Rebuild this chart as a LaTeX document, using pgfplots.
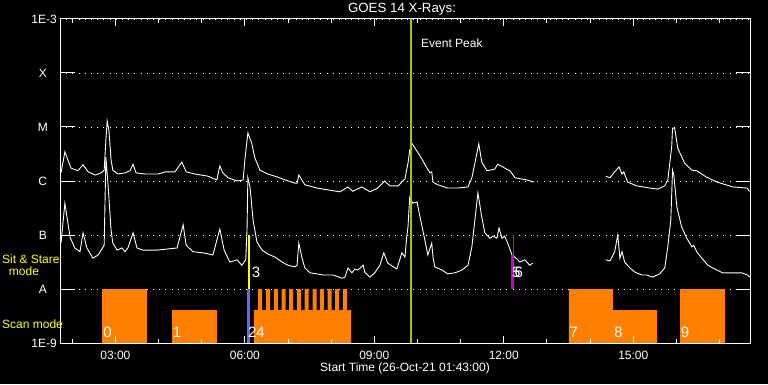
\documentclass[border=0pt]{standalone}
\usepackage{fontspec}
\setmainfont{Liberation Sans}
\usepackage{pgfplots}
\pgfplotsset{compat=1.18}
\definecolor{scanorange}{RGB}{255,128,0}
\definecolor{evgreen}{RGB}{153,204,0}
\definecolor{ssyellow}{RGB}{255,255,0}
\definecolor{lineblue}{RGB}{100,100,255}
\definecolor{magbar}{RGB}{204,0,204}
\newcommand{\tf}{\fontsize{12bp}{14bp}\selectfont}
\newcommand{\ttlf}{\fontsize{13.3bp}{15bp}\selectfont}
\newcommand{\nf}{\fontsize{15bp}{16bp}\selectfont}
\begin{document}
\begin{tikzpicture}[x=1bp,y=1bp]
\fill[black] (0,0) rectangle (768,384);
\path[use as bounding box] (0,0) rectangle (768,384);
\begin{axis}[at={(60bp,41bp)}, anchor=south west, scale only axis,
  width=690.5bp, height=324bp,
  xmin=1.7167, xmax=17.7167, ymin=-9, ymax=-3,
  axis line style={white, line width=1bp},
  xtick=\empty,
  ytick={-9,-8,...,-3},
  yticklabels={1E-9,\makebox[28bp]{A},\makebox[28bp]{B},\makebox[28bp]{C},\makebox[28bp]{M},\makebox[28bp]{X},1E-3},
  ytick pos=both, yticklabel pos=left, tick align=inside,
  major tick length=15bp,
  tick style={white, line width=1bp},
  ymajorgrids,
  major grid style={white, line width=0.9bp, dash pattern=on 0.9bp off 5.3bp},
  yticklabel style={anchor=east, inner sep=0pt, xshift=-3bp, text=white, font=\tf},
]
% GOES long channel (1-8 A)
\addplot[white, line width=0.9bp] coordinates {
(1.74,-5.85) (1.83,-5.46) (1.97,-5.76) (2.13,-5.81) (2.25,-5.70) (2.37,-5.83)
(2.53,-5.89) (2.67,-5.85) (2.74,-5.80) (2.78,-5.24) (2.81,-4.89) (2.85,-5.06)
(2.90,-5.61) (2.94,-5.80) (2.99,-5.83) (3.06,-5.87) (3.22,-5.85) (3.34,-5.81)
(3.41,-5.69) (3.48,-5.85) (3.69,-5.87) (3.99,-5.87) (4.17,-5.83) (4.38,-5.83)
(4.54,-5.65) (4.64,-5.83) (4.84,-5.87) (5.14,-5.91) (5.35,-5.98) (5.42,-5.72)
(5.49,-5.85) (5.61,-5.94) (5.82,-6.00) (5.96,-5.98) (6.00,-5.61) (6.07,-5.11)
(6.16,-5.30) (6.23,-5.57) (6.35,-5.80) (6.53,-5.87) (6.77,-5.93) (6.93,-5.98)
(7.16,-6.04) (7.21,-6.04) (7.25,-5.89) (7.39,-6.07) (7.67,-6.13) (7.97,-6.17)
(8.20,-6.20) (8.39,-6.11) (8.50,-6.19) (8.71,-6.11) (8.90,-6.20) (9.08,-6.13)
(9.24,-6.00) (9.36,-6.09) (9.55,-6.09) (9.71,-5.96) (9.78,-5.67) (9.82,-5.43)
(9.87,-5.30) (9.94,-5.39) (10.08,-5.56) (10.22,-5.76) (10.29,-5.85) (10.33,-5.83)
(10.36,-6.02) (10.47,-6.07) (10.70,-6.13) (10.94,-6.13) (11.17,-6.11) (11.26,-5.94)
(11.33,-5.67) (11.42,-5.31) (11.49,-5.65) (11.61,-5.81) (11.79,-5.78) (11.86,-5.69)
(11.98,-5.74) (12.02,-5.76) (12.14,-5.81) (12.26,-5.94) (12.53,-5.98) (12.70,-6.02)
};
\addplot[white, line width=0.9bp] coordinates {
(14.36,-5.91) (14.46,-5.94) (14.57,-5.83) (14.67,-5.74) (14.74,-5.87) (14.78,-5.83)
(14.87,-6.02) (15.08,-6.09) (15.38,-6.13) (15.57,-6.15) (15.73,-6.09) (15.80,-5.98)
(15.89,-5.37) (15.91,-5.02) (15.96,-5.02) (16.03,-5.39) (16.19,-5.67) (16.36,-5.80)
(16.47,-5.81) (16.70,-5.93) (16.94,-6.02) (17.31,-6.11) (17.63,-6.13) (17.70,-6.19)
};
% GOES short channel (0.5-4 A)
\addplot[white, line width=0.9bp] coordinates {
(1.74,-7.15) (1.83,-6.41) (1.95,-7.04) (2.06,-7.24) (2.18,-7.31) (2.25,-6.96)
(2.34,-7.24) (2.48,-7.43) (2.60,-7.37) (2.74,-7.19) (2.78,-5.56) (2.83,-6.07)
(2.90,-6.91) (2.94,-7.15) (3.04,-7.28) (3.15,-7.24) (3.22,-7.31) (3.29,-7.24)
(3.41,-6.96) (3.50,-7.24) (3.64,-7.28) (3.96,-7.28) (4.20,-7.26) (4.43,-7.24)
(4.57,-6.81) (4.64,-7.19) (4.80,-7.31) (5.03,-7.33) (5.26,-7.37) (5.42,-6.89)
(5.52,-7.28) (5.65,-7.50) (5.82,-7.46) (5.93,-7.56) (6.02,-7.46) (6.05,-6.91)
(6.07,-5.94) (6.12,-6.11) (6.19,-6.72) (6.28,-7.13) (6.40,-7.28) (6.53,-7.35)
(6.70,-7.41) (6.86,-7.50) (7.00,-7.56) (7.16,-7.59) (7.21,-7.56) (7.25,-7.15)
(7.32,-7.41) (7.39,-7.61) (7.51,-7.70) (7.67,-7.72) (7.81,-7.74) (8.04,-7.74)
(8.25,-7.80) (8.32,-7.78) (8.39,-7.61) (8.48,-7.70) (8.55,-7.63) (8.62,-7.65)
(8.74,-7.56) (8.78,-7.69) (8.90,-7.78) (9.01,-7.70) (9.13,-7.56) (9.22,-7.33)
(9.31,-7.52) (9.52,-7.63) (9.64,-7.33) (9.71,-7.41) (9.75,-7.04) (9.78,-6.85)
(9.82,-6.30) (9.89,-6.41) (9.99,-6.39) (10.06,-6.67) (10.17,-7.09) (10.24,-7.37)
(10.33,-7.15) (10.36,-7.41) (10.40,-7.59) (10.57,-7.65) (10.70,-7.72) (10.87,-7.70)
(11.03,-7.65) (11.17,-7.56) (11.26,-7.22) (11.33,-6.72) (11.40,-6.22) (11.49,-6.67)
(11.56,-6.96) (11.68,-7.06) (11.75,-7.02) (11.84,-7.06) (11.89,-6.87) (11.96,-7.06)
(12.02,-7.02) (12.09,-7.15) (12.19,-7.37) (12.30,-7.44) (12.37,-7.50) (12.49,-7.46)
(12.60,-7.56) (12.67,-7.52)
};
\addplot[white, line width=0.9bp] coordinates {
(14.36,-7.46) (14.46,-7.48) (14.57,-7.31) (14.64,-7.00) (14.69,-7.43) (14.74,-7.31)
(14.80,-7.50) (14.92,-7.61) (15.04,-7.69) (15.20,-7.74) (15.31,-7.74) (15.45,-7.78)
(15.61,-7.72) (15.73,-7.61) (15.80,-7.22) (15.87,-6.72) (15.91,-5.80) (15.94,-5.89)
(16.01,-6.48) (16.12,-6.85) (16.24,-7.06) (16.36,-7.22) (16.40,-7.19) (16.47,-7.31)
(16.59,-7.43) (16.73,-7.56) (16.89,-7.63) (17.07,-7.70) (17.28,-7.70) (17.51,-7.70)
(17.65,-7.74) (17.70,-7.78)
};
% scan mode rasters
\addplot[fill=scanorange, draw=none] coordinates {(2.69,-9) (2.69,-8) (3.73,-8) (3.73,-9)} -- cycle;
\addplot[fill=scanorange, draw=none] coordinates {(4.31,-9) (4.31,-8.39) (5.35,-8.39) (5.35,-9)} -- cycle;
\addplot[fill=scanorange, draw=none] coordinates {
(6.21,-9) (6.21,-8.39)
(6.310,-8.39) (6.310,-8) (6.403,-8) (6.403,-8.39)
(6.495,-8.39) (6.495,-8) (6.588,-8) (6.588,-8.39)
(6.674,-8.39) (6.674,-8) (6.767,-8) (6.767,-8.39)
(6.852,-8.39) (6.852,-8) (6.945,-8) (6.945,-8.39)
(7.028,-8.39) (7.028,-8) (7.121,-8) (7.121,-8.39)
(7.206,-8.39) (7.206,-8) (7.299,-8) (7.299,-8.39)
(7.385,-8.39) (7.385,-8) (7.478,-8) (7.478,-8.39)
(7.570,-8.39) (7.570,-8) (7.663,-8) (7.663,-8.39)
(7.739,-8.39) (7.739,-8) (7.832,-8) (7.832,-8.39)
(7.918,-8.39) (7.918,-8) (8.010,-8) (8.010,-8.39)
(8.094,-8.39) (8.094,-8) (8.187,-8) (8.187,-8.39)
(8.272,-8.39) (8.272,-8) (8.365,-8) (8.365,-8.39)
(8.46,-8.39) (8.46,-9)} -- cycle;
\addplot[fill=scanorange, draw=none] coordinates {(13.51,-9) (13.51,-8) (14.53,-8) (14.53,-8.39) (15.55,-8.39) (15.55,-9)} -- cycle;
\addplot[fill=scanorange, draw=none] coordinates {(16.08,-9) (16.08,-8) (17.12,-8) (17.12,-9)} -- cycle;
% sit and stare markers
\addplot[ssyellow, line width=2.3bp] coordinates {(6.10,-7) (6.10,-8)};
\addplot[lineblue, line width=3bp] coordinates {(6.08,-8) (6.08,-9)};
\addplot[fill=magbar, draw=none] coordinates {(12.16,-8) (12.16,-7.37) (12.23,-7.37) (12.23,-8)} -- cycle;
\addplot[magbar, line width=1bp] coordinates {(12.225,-7) (12.225,-8)};
% event peak
\addplot[evgreen, line width=2.7bp] coordinates {(9.847,-9) (9.847,-3)};
% raster numbers
\begin{scope}[every node/.style={anchor=west, inner sep=0pt, text=white, font=\nf}]
\node at (axis cs:2.72,-8.81) {0};
\node at (axis cs:4.33,-8.81) {1};
\node at (axis cs:6.07,-8.81) {24};
\node at (axis cs:13.52,-8.81) {7};
\node at (axis cs:14.55,-8.81) {8};
\node at (axis cs:16.10,-8.81) {9};
\node at (axis cs:6.16,-7.69) {3};
\node at (axis cs:12.19,-7.69) {5};
\node at (axis cs:12.245,-7.69) {6};
\end{scope}
\end{axis}
\begin{axis}[at={(60bp,41bp)}, anchor=south west, scale only axis,
  width=690.5bp, height=324bp,
  xmin=1.7167, xmax=17.7167, ymin=-9, ymax=-3,
  axis line style={white, line width=1bp},
  ytick=\empty,
  xtick={3,6,9,12,15}, xticklabels={03:00,06:00,09:00,12:00,15:00},
  minor xtick={2,...,17},
  xtick pos=both, xticklabel pos=lower, tick align=inside,
  major tick length=7bp, minor tick length=4bp,
  tick style={white, line width=1bp},
  xticklabel style={anchor=north, inner sep=0pt, yshift=-8bp, text=white, font=\tf},
]
\end{axis}
\node[text=white, font=\ttlf, inner sep=0pt] at (402,375) {GOES 14 X-Rays:};
\node[text=white, font=\tf, inner sep=0pt, anchor=west] at (421,341) {Event Peak};
\node[text=white, font=\tf, inner sep=0pt] at (405,16) {Start Time (26-Oct-21 01:43:00)};
\node[text=ssyellow, font=\tf, inner sep=0pt, anchor=west] at (2,125) {Sit \& Stare};
\node[text=ssyellow, font=\tf, inner sep=0pt] at (24,113) {mode};
\node[text=ssyellow, font=\tf, inner sep=0pt, anchor=west] at (2,60) {Scan mode};
\end{tikzpicture}
\end{document}
